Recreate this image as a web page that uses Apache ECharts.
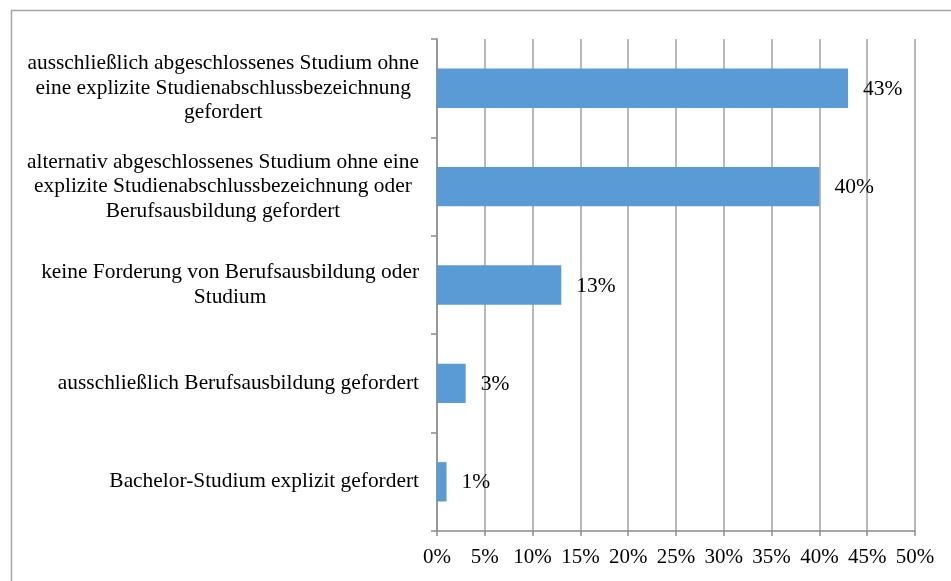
<!DOCTYPE html>
<html>
<head>
<meta charset="utf-8">
<script src="https://cdn.jsdelivr.net/npm/echarts@6/dist/echarts.min.js"></script>
<style>
html,body{margin:0;padding:0;background:#fff;}
#chart{width:951px;height:581px;}
</style>
</head>
<body>
<div id="chart"></div>
<script>
// Categories (bottom to top as drawn by ECharts category yAxis)
const categories = [
  "Bachelor-Studium explizit gefordert",
  "ausschließlich Berufsausbildung gefordert",
  "keine Forderung von Berufsausbildung oder\nStudium",
  "alternativ abgeschlossenes Studium ohne eine\nexplizite Studienabschlussbezeichnung oder\nBerufsausbildung gefordert",
  "ausschließlich abgeschlossenes Studium ohne\neine explizite Studienabschlussbezeichnung\ngefordert"
];
const values = [1, 3, 13, 40, 43];
const xTickLabels = ["0%","5%","10%","15%","20%","25%","30%","35%","40%","45%","50%"];

const FONT = "'Liberation Serif', 'Times New Roman', serif";
const chart = echarts.init(document.getElementById('chart'), null, {renderer:'canvas'});
chart.setOption({
  animation: false,
  backgroundColor: '#ffffff',
  graphic: [{
    type: 'rect',
    shape: {x: 11.5, y: 10.5, width: 1200, height: 1200},
    style: {fill: 'none', stroke: '#a6a6a6', lineWidth: 1.5},
    silent: true
  }],
  grid: {left: 437, right: 36, top: 39, bottom: 50, containLabel: false},
  xAxis: {
    type: 'value',
    min: 0, max: 50, interval: 5,
    axisLine: {show: true, lineStyle: {color: '#8c8c8c', width: 1.5}},
    axisTick: {show: true, length: 5, lineStyle: {color: '#8c8c8c', width: 1.5}},
    splitLine: {show: true, lineStyle: {color: '#a0a0a0', width: 1.5}},
    axisLabel: {
      color: '#000', fontFamily: FONT, fontSize: 21, margin: 16,
      formatter: function (v) { return xTickLabels[Math.round(v / 5)]; }
    }
  },
  yAxis: {
    type: 'category',
    data: categories,
    axisLine: {show: true, lineStyle: {color: '#8c8c8c', width: 1.5}},
    axisTick: {show: true, length: 6, lineStyle: {color: '#8c8c8c', width: 1.5}},
    splitLine: {show: false},
    axisLabel: {
      align: 'right', margin: 18,
      formatter: function (v) { return v.split('\n').map(function (l) { return '{c|' + l + '}'; }).join('\n'); },
      rich: {c: {align: 'center', fontFamily: FONT, fontSize: 21.4, color: '#000', lineHeight: 24.5}}
    }
  },
  series: [{
    type: 'bar',
    data: values,
    barWidth: '40%',
    itemStyle: {color: '#5b9bd5'},
    label: {
      show: true, position: 'right', distance: 15,
      color: '#000', fontFamily: FONT, fontSize: 21.5,
      offset: [0, 1],
      formatter: function (p) { return p.value + '%'; }
    }
  }]
});
</script>
</body>
</html>
